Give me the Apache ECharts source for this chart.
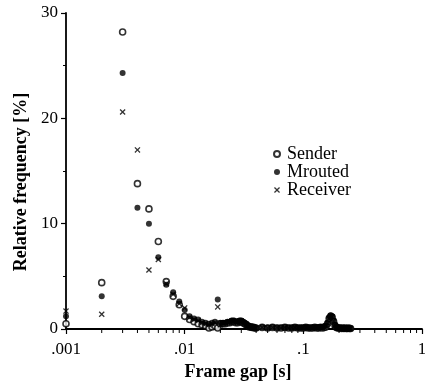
<!DOCTYPE html>
<html><head><meta charset="utf-8">
<script src="https://cdn.jsdelivr.net/npm/echarts@6/dist/echarts.min.js"></script>
<style>html,body{margin:0;padding:0;background:#fff}#c{width:425px;height:381px}</style>
</head><body><div id="c"></div>
<script>
// Frame gap bins [s]
const gaps = [
  0.001,0.002,0.003,0.004,0.005,0.006,0.007,0.008,0.009,0.010,
  0.011,0.012,0.013,0.014,0.015,0.016,0.017,0.018,0.019,0.020,
  0.021,0.022,0.023,0.024,0.025,0.026,0.027,0.028,0.029,0.030,
  0.031,0.032,0.033,0.034,0.035,0.036,0.037,0.038,0.039,0.040,
  0.045,0.050,0.055,0.060,0.065,0.070,0.075,0.080,0.085,0.090,0.095,
  0.100,0.105,0.110,0.115,0.120,0.125,0.130,0.135,0.140,0.145,0.150,
  0.155,0.160,0.165,0.170,0.175,0.180,0.185,0.190,0.195,0.200,
  0.205,0.210,0.215,0.220,0.225,0.230,0.235,0.240,0.245,0.250
];
// Relative frequency [%]
const sender = [
  0.5,4.4,28.2,13.8,11.4,8.3,4.5,3.1,2.3,1.2,
  0.9,0.7,0.5,0.4,0.3,0.1,0.2,0.3,0.1,0.5,
  0.5,0.5,0.6,0.6,0.7,0.7,0.6,0.6,0.7,0.7,
  0.6,0.5,0.4,0.3,0.2,0.2,0.15,0.15,0.1,0.1,
  0.15,0.1,0.15,0.1,0.1,0.15,0.1,0.1,0.15,0.1,0.1,
  0.1,0.15,0.1,0.1,0.1,0.15,0.1,0.1,0.15,0.1,0.15,
  0.2,0.5,1.0,1.2,1.1,0.7,0.3,0.15,0.1,0.1,
  0.1,0.05,0.1,0.05,0.1,0.05,0.05,0.1,0.05,0.05
];
const mrouted = [
  1.2,3.1,24.3,11.5,10.0,6.8,4.2,3.5,2.6,1.8,
  1.2,1.0,0.9,0.7,0.6,0.5,0.6,0.7,2.8,0.6,
  0.6,0.6,0.7,0.7,0.8,0.8,0.7,0.7,0.8,0.8,
  0.7,0.6,0.5,0.3,0.2,0.2,0.2,0.15,0.15,0.1,
  0.2,0.15,0.2,0.15,0.15,0.2,0.15,0.15,0.2,0.15,0.15,
  0.15,0.2,0.15,0.15,0.15,0.2,0.15,0.2,0.2,0.2,0.25,
  0.3,0.6,1.1,1.3,1.2,0.8,0.4,0.2,0.1,0.1,
  0.1,0.1,0.1,0.05,0.1,0.1,0.05,0.1,0.05,0.05
];
const receiver = [
  1.7,1.4,20.6,17.0,5.6,6.6,4.3,3.3,2.4,2.0,
  1.1,0.9,0.8,0.6,0.5,0.4,0.5,0.6,2.1,0.4,
  0.5,0.6,0.6,0.7,0.75,0.75,0.65,0.65,0.75,0.75,
  0.65,0.55,0.45,0.3,0.2,0.2,0.15,0.15,0.1,0.1,
  0.15,0.1,0.15,0.15,0.1,0.15,0.1,0.15,0.15,0.1,0.1,
  0.15,0.15,0.1,0.15,0.1,0.15,0.1,0.15,0.15,0.15,0.2,
  0.25,0.55,1.0,1.2,1.15,0.75,0.35,0.15,0.1,0.1,
  0.1,0.05,0.1,0.05,0.05,0.1,0.05,0.05,0.05,0.05
];
const yTicks = [0, 10, 20, 30];
// minor ticks of the log x axis
const xMinorTicks = [
  0.002,0.003,0.004,0.005,0.006,0.007,0.008,0.009,
  0.02,0.03,0.04,0.05,0.06,0.07,0.08,0.09,
  0.2,0.3,0.4,0.5,0.6,0.7,0.8,0.9
];

const pair = arr => gaps.map((g, i) => [g, arr[i]]);
const serif = '"Liberation Serif","DejaVu Serif",serif';
const crossPath = 'path://M0,1.5L1.5,0L5,3.5L8.5,0L10,1.5L6.5,5L10,8.5L8.5,10L5,6.5L1.5,10L0,8.5L3.5,5Z';

const chart = echarts.init(document.getElementById('c'), null, {renderer: 'canvas'});
chart.setOption({
  animation: false,
  backgroundColor: '#fff',
  grid: {left: 66, right: 3, top: 13, bottom: 52, containLabel: false, outerBoundsMode: 'none'},
  legend: {
    orient: 'vertical', left: 273, top: 145, padding: 0,
    itemWidth: 6, itemHeight: 6, itemGap: 0,
    textStyle: {fontFamily: serif, fontSize: 18, lineHeight: 16, color: '#000', padding: [0, 0, 0, 2]},
    data: ['Sender', 'Mrouted', 'Receiver']
  },
  xAxis: {
    type: 'log', logBase: 10, min: 0.001, max: 1,
    name: 'Frame gap [s]', nameLocation: 'middle', nameGap: 29,
    nameTextStyle: {fontFamily: serif, fontSize: 18, fontWeight: 'bold', color: '#000', padding: [0, 12, 0, 0]},
    axisLine: {lineStyle: {color: '#000', width: 1.8}},
    axisTick: {show: true, inside: false, length: 5, lineStyle: {color: '#000', width: 1.2}},
    axisLabel: {fontFamily: serif, fontSize: 17, color: '#000', margin: 12,
      formatter: v => String(+(+v).toPrecision(3)).replace(/^0\./, '.')},
    splitLine: {show: false}
  },
  yAxis: {
    type: 'value', min: yTicks[0], max: yTicks[yTicks.length - 1], interval: 10,
    name: 'Relative frequency [%]', nameLocation: 'middle', nameGap: 34,
    nameTextStyle: {fontFamily: serif, fontSize: 18, fontWeight: 'bold', color: '#000', padding: [0, 22, 0, 0]},
    axisLine: {show: true, lineStyle: {color: '#000', width: 1.8}},
    axisTick: {show: true, inside: false, length: 5, lineStyle: {color: '#000', width: 1.2}},
    minorTick: {show: true, splitNumber: 2, length: 3, lineStyle: {color: '#000'}},
    axisLabel: {fontFamily: serif, fontSize: 17, color: '#000', margin: 8},
    splitLine: {show: false}
  },
  series: [
    {type: 'custom', silent: true, clip: false, z: 5,
     data: xMinorTicks.map(v => [v, 0]),
     renderItem: (params, api) => {
       const p = api.coord([api.value(0), api.value(1)]);
       return {type: 'line', shape: {x1: p[0], y1: p[1], x2: p[0], y2: p[1] + 4},
               style: {stroke: '#000', lineWidth: 1}};
     }},
    {name: 'Sender', type: 'scatter', data: pair(sender), symbol: 'circle', symbolSize: 6,
     itemStyle: {color: '#fff', borderColor: '#000', borderWidth: 1.6}},
    {name: 'Mrouted', type: 'scatter', data: pair(mrouted), symbol: 'circle', symbolSize: 6,
     itemStyle: {color: '#000'}},
    {name: 'Receiver', type: 'scatter', data: pair(receiver), symbol: crossPath, symbolSize: 6,
     itemStyle: {color: '#000'}}
  ]
});
</script></body></html>
